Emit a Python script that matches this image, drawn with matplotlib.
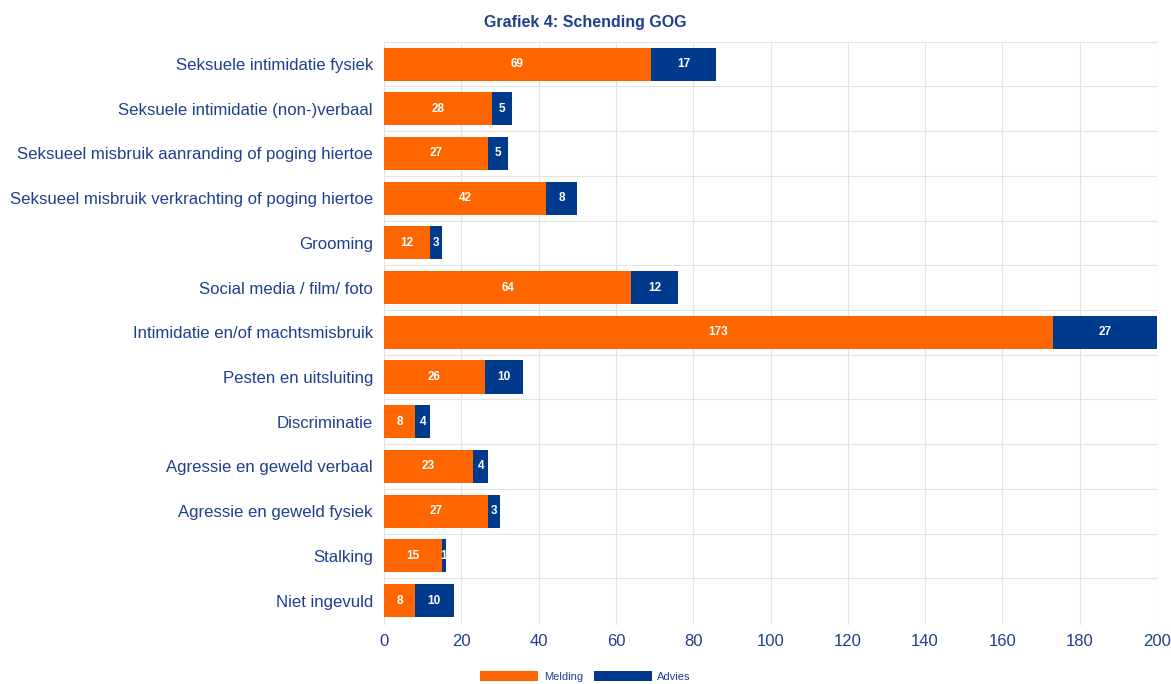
import matplotlib.pyplot as plt
import numpy as np

plt.rcParams["font.family"] = ["Liberation Sans", "DejaVu Sans"]

categories = [
    "Seksuele intimidatie fysiek",
    "Seksuele intimidatie (non-)verbaal",
    "Seksueel misbruik aanranding of poging hiertoe",
    "Seksueel misbruik verkrachting of poging hiertoe",
    "Grooming",
    "Social media / film/ foto",
    "Intimidatie en/of machtsmisbruik",
    "Pesten en uitsluiting",
    "Discriminatie",
    "Agressie en geweld verbaal",
    "Agressie en geweld fysiek",
    "Stalking",
    "Niet ingevuld",
]
melding = [69, 28, 27, 42, 12, 64, 173, 26, 8, 23, 27, 15, 8]
advies = [17, 5, 5, 8, 3, 12, 27, 10, 4, 4, 3, 1, 10]

orange = "#FF6600"
navy = "#003A8C"
textcol = "#1F3F8F"

fig = plt.figure(figsize=(11.71, 6.84), dpi=100)
ax = fig.add_axes([0.328, 0.086, 0.66, 0.853])

y = np.arange(len(categories))
b1 = ax.barh(y, melding, height=0.74, color=orange, label="Melding", zorder=3)
b2 = ax.barh(y, advies, left=melding, height=0.74, color=navy, label="Advies", zorder=3)

for rect, v in zip(b1, melding):
    ax.text(rect.get_x() + rect.get_width() / 2, rect.get_y() + rect.get_height() / 2,
            str(v), ha="center", va="center", color="white", fontsize=8.5, fontweight="bold", zorder=4)
for rect, v in zip(b2, advies):
    ax.text(rect.get_x() + rect.get_width() / 2, rect.get_y() + rect.get_height() / 2,
            str(v), ha="center", va="center", color="white", fontsize=8.5, fontweight="bold", zorder=4)

ax.set_xlim(0, 200)
ax.set_ylim(len(categories) - 0.45, -0.5)
ax.set_xticks(np.arange(0, 201, 20))
ax.set_yticks(y)
ax.set_yticklabels(categories)
ax.set_yticks(np.arange(-0.5, len(categories) - 0.5, 1), minor=True)
ax.tick_params(axis="y", which="both", length=0, labelsize=12.1, labelcolor=textcol, pad=8)
ax.tick_params(axis="x", length=0, labelsize=12, labelcolor=textcol, pad=6)
ax.grid(axis="x", color="#E3E3E3", linewidth=0.8, zorder=0)
ax.grid(axis="y", which="minor", color="#E3E3E3", linewidth=0.8, zorder=0)
for s in ax.spines.values():
    s.set_visible(False)

fig.text(0.5, 0.967, "Grafiek 4: Schending GOG", ha="center", va="center",
         fontsize=11.5, fontweight="bold", color=textcol)
fig.legend(handles=[b1, b2], loc="center", bbox_to_anchor=(0.5, 0.011), ncol=2, frameon=False,
           fontsize=8, labelcolor=textcol, handlelength=5.2, handleheight=1.0,
           handletextpad=0.5, columnspacing=1.0)

fig.savefig("out.png", dpi=100)
